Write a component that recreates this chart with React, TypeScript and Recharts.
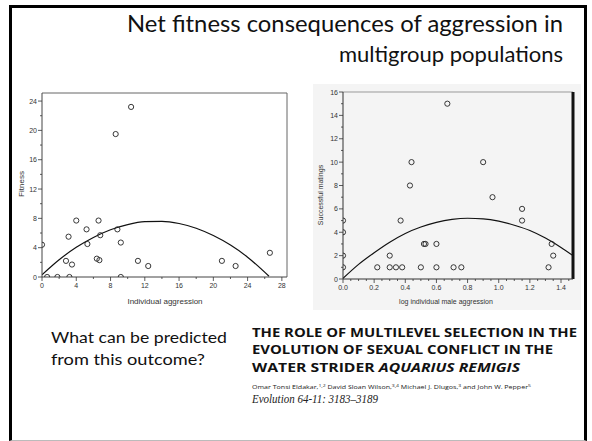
import React from 'react';
import { ComposedChart, Scatter, Line, XAxis, YAxis, ReferenceLine } from 'recharts';

// left panel: individual aggression vs fitness
const aggression = [0, 0.6, 1.8, 2.8, 3.1, 3.2, 3.5, 4.0, 5.2, 5.3, 6.4, 6.6, 6.7, 6.8, 8.6, 8.8, 9.2, 9.2, 10.4, 11.2, 12.4, 21.0, 22.6, 26.6];
const fitness = [4.4, 0, 0, 2.2, 5.5, 0, 1.7, 7.7, 6.5, 4.5, 2.5, 7.7, 2.3, 5.7, 19.5, 6.5, 4.7, 0, 23.2, 2.2, 1.5, 2.2, 1.5, 3.3];
const fitCurveX = [0, 2, 4, 6, 8, 10, 12, 14, 16, 18, 20, 22, 24, 26.5];
const fitCurveY = [0.3, 2.35, 4.05, 5.4, 6.45, 7.15, 7.55, 7.6, 7.3, 6.65, 5.65, 4.35, 2.7, 0.1];
const leftXMajor = [0, 4, 8, 12, 16, 20, 24, 28];
const leftXTicks = [0, 2, 4, 6, 8, 10, 12, 14, 16, 18, 20, 22, 24, 26, 28];
const leftYMajor = [0, 4, 8, 12, 16, 20, 24];
const leftYTicks = [0, 2, 4, 6, 8, 10, 12, 14, 16, 18, 20, 22, 24];

// right panel: log individual male aggression vs successful matings
const logAggression = [0, 0, 0, 0, 0.22, 0.3, 0.3, 0.34, 0.38, 0.37, 0.43, 0.44, 0.52, 0.53, 0.5, 0.6, 0.6, 0.67, 0.71, 0.76, 0.9, 0.96, 1.15, 1.15, 1.32, 1.34, 1.35];
const matings = [5, 4, 2, 1, 1, 2, 1, 1, 1, 5, 8, 10, 3, 3, 1, 3, 1, 15, 1, 1, 10, 7, 6, 5, 1, 3, 2];
const matCurveX = [0, 0.1, 0.2, 0.3, 0.4, 0.5, 0.6, 0.7, 0.8, 0.9, 1.0, 1.1, 1.2, 1.3, 1.4, 1.477];
const matCurveY = [0.05, 1.25, 2.25, 3.15, 3.9, 4.45, 4.85, 5.1, 5.2, 5.15, 4.95, 4.6, 4.15, 3.5, 2.7, 2.0];
const rightXMajor = [0, 0.2, 0.4, 0.6, 0.8, 1.0, 1.2, 1.4];
const rightXTicks = [0, 0.05, 0.1, 0.15, 0.2, 0.25, 0.3, 0.35, 0.4, 0.45, 0.5, 0.55, 0.6, 0.65, 0.7, 0.75, 0.8, 0.85, 0.9, 0.95, 1.0, 1.05, 1.1, 1.15, 1.2, 1.25, 1.3, 1.35, 1.4, 1.45];
const rightYMajor = [0, 2, 4, 6, 8, 10, 12, 14, 16];
const rightYTicks = [0, 1, 2, 3, 4, 5, 6, 7, 8, 9, 10, 11, 12, 13, 14, 15, 16];

const leftPoints = aggression.map((x, i) => ({ x, y: fitness[i] }));
const leftCurve = fitCurveX.map((x, i) => ({ x, y: fitCurveY[i] }));
const rightPoints = logAggression.map((x, i) => ({ x, y: matings[i] }));
const rightCurve = matCurveX.map((x, i) => ({ x, y: matCurveY[i] }));

const axisFont = '"Liberation Sans", Arial, sans-serif';
const slideFont = 'Lato, "Open Sans", sans-serif';

const isMajor = (list: number[], v: number) => list.some((m) => Math.abs(m - v) < 1e-6);

const xTick = (majors: number[], fmt: (v: number) => string) => (props: any) => {
  const { x, y, payload } = props;
  const major = isMajor(majors, payload.value);
  return (
    <g>
      <line x1={x} x2={x} y1={y} y2={y + (major ? 4 : 2)} stroke="#333" strokeWidth={0.8} />
      {major && (
        <text x={x} y={y + 11} textAnchor="middle" fontSize={7} fill="#333" fontFamily={axisFont}>
          {fmt(payload.value)}
        </text>
      )}
    </g>
  );
};

const yTick = (majors: number[]) => (props: any) => {
  const { x, y, payload } = props;
  const major = isMajor(majors, payload.value);
  return (
    <g>
      <line x1={x - (major ? 4 : 2)} x2={x} y1={y} y2={y} stroke="#333" strokeWidth={0.8} />
      {major && (
        <text x={x - 5} y={y + 2.5} textAnchor="end" fontSize={7} fill="#333" fontFamily={axisFont}>
          {payload.value}
        </text>
      )}
    </g>
  );
};

const ring = (p: any) => <circle cx={p.cx} cy={p.cy} r={2.6} fill="none" stroke="#222" strokeWidth={0.9} />;

export default function App() {
  return (
    <div style={{ position: 'absolute', left: 0, top: 0, width: 592, height: 441, background: '#fff', overflow: 'hidden' }}>
      <div
        style={{
          position: 'absolute', left: 9, top: 5, width: 578, height: 436, boxSizing: 'border-box',
          borderLeft: '3px solid #000', borderTop: '3px solid #000', borderRight: '3px solid #000', borderBottom: '1px solid #bbb',
        }}
      />
      <div style={{ position: 'absolute', left: 313, top: 84, width: 268, height: 226, background: '#f4f4f4' }} />

      <div style={{ position: 'absolute', left: 0, top: 80 }}>
        <ComposedChart width={300} height={230} margin={{ top: 13, right: 13, bottom: 13, left: 12 }}>
          <XAxis
            type="number" dataKey="x" domain={[0, 28.6]} ticks={leftXTicks} interval={0} allowDataOverflow
            tickSize={0} tickMargin={0} tickLine={false} axisLine={{ stroke: '#444' }} height={20}
            tick={xTick(leftXMajor, (v) => String(v))}
          />
          <YAxis
            type="number" dataKey="y" domain={[0, 25.1]} ticks={leftYTicks} interval={0} allowDataOverflow
            tickSize={0} tickMargin={0} tickLine={false} axisLine={{ stroke: '#444' }} width={30}
            tick={yTick(leftYMajor)}
          />
          <ReferenceLine y={25.1} stroke="#666" ifOverflow="visible" />
          <ReferenceLine x={28.6} stroke="#666" ifOverflow="visible" />
          <Line data={leftCurve} dataKey="y" type="monotone" dot={false} stroke="#111" strokeWidth={1.2} isAnimationActive={false} />
          <Scatter data={leftPoints} dataKey="y" shape={ring} isAnimationActive={false} />
        </ComposedChart>
      </div>

      <div style={{ position: 'absolute', left: 300, top: 80 }}>
        <ComposedChart width={292} height={230} margin={{ top: 12, right: 19, bottom: 11, left: 13 }}>
          <XAxis
            type="number" dataKey="x" domain={[0, 1.477]} ticks={rightXTicks} interval={0} allowDataOverflow
            tickSize={0} tickMargin={0} tickLine={false} axisLine={{ stroke: '#333' }} height={20}
            tick={xTick(rightXMajor, (v) => v.toFixed(1))}
          />
          <YAxis
            type="number" dataKey="y" domain={[0, 16]} ticks={rightYTicks} interval={0} allowDataOverflow
            tickSize={0} tickMargin={0} tickLine={false} axisLine={{ stroke: '#333' }} width={30}
            tick={yTick(rightYMajor)}
          />
          <ReferenceLine y={16} stroke="#999" ifOverflow="visible" />
          <ReferenceLine x={1.477} stroke="#111" strokeWidth={3} ifOverflow="visible" />
          <Line data={rightCurve} dataKey="y" type="monotone" dot={false} stroke="#111" strokeWidth={1.2} isAnimationActive={false} />
          <Scatter data={rightPoints} dataKey="y" shape={ring} isAnimationActive={false} />
        </ComposedChart>
      </div>

      <svg width={592} height={441} style={{ position: 'absolute', left: 0, top: 0, pointerEvents: 'none' }}>
        <text x={127} y={32} fontSize={23} fontFamily={slideFont} fill="#111" textLength={436} lengthAdjust="spacingAndGlyphs">
          Net fitness consequences of aggression in
        </text>
        <text x={563} y={62} textAnchor="end" fontSize={22} fontFamily={slideFont} fill="#111">
          multigroup populations
        </text>

        <text transform="translate(24,184) rotate(-90)" textAnchor="middle" fontSize={8} fontFamily={axisFont} fill="#333">Fitness</text>
        <text x={165} y={304} textAnchor="middle" fontSize={8} fontFamily={axisFont} fill="#333">Individual aggression</text>
        <text transform="translate(323,195) rotate(-90)" textAnchor="middle" fontSize={7} fontFamily={axisFont} fill="#333">Successful matings</text>
        <text x={446} y={304} textAnchor="middle" fontSize={7} fontFamily={axisFont} fill="#333">log individual male aggression</text>

        <text x={51} y={343} fontSize={16} fontFamily={slideFont} fill="#111" textLength={176} lengthAdjust="spacingAndGlyphs">What can be predicted</text>
        <text x={51} y={365} fontSize={16} fontFamily={slideFont} fill="#111" textLength={154} lengthAdjust="spacingAndGlyphs">from this outcome?</text>

        <g fontFamily='"Open Sans", "Liberation Sans", sans-serif' fontWeight={700} fontSize={12.5} fill="#111">
          <text x={252} y={337} textLength={325} lengthAdjust="spacingAndGlyphs">THE ROLE OF MULTILEVEL SELECTION IN THE</text>
          <text x={252} y={354} textLength={301} lengthAdjust="spacingAndGlyphs">EVOLUTION OF SEXUAL CONFLICT IN THE</text>
          <text x={252} y={372} textLength={268} lengthAdjust="spacingAndGlyphs">
            WATER STRIDER <tspan fontStyle="italic">AQUARIUS REMIGIS</tspan>
          </text>
        </g>
        <text x={252} y={389} fontSize={5.5} fontFamily='"Open Sans", sans-serif' fill="#222" textLength={279} lengthAdjust="spacingAndGlyphs">
          Omar Tonsi Eldakar,<tspan fontSize={4} dy={-2}>1,2</tspan><tspan dy={2}> David Sloan Wilson,</tspan><tspan fontSize={4} dy={-2}>3,4</tspan><tspan dy={2}> Michael J. Dlugos,</tspan><tspan fontSize={4} dy={-2}>3</tspan><tspan dy={2}> and John W. Pepper</tspan><tspan fontSize={4} dy={-2}>5</tspan>
        </text>
        <text x={252} y={403} fontSize={12} fontStyle="italic" fontFamily='"Liberation Serif", "DejaVu Serif", serif' fill="#222" textLength={126} lengthAdjust="spacingAndGlyphs">
          Evolution 64-11: 3183–3189
        </text>
      </svg>
    </div>
  );
}
